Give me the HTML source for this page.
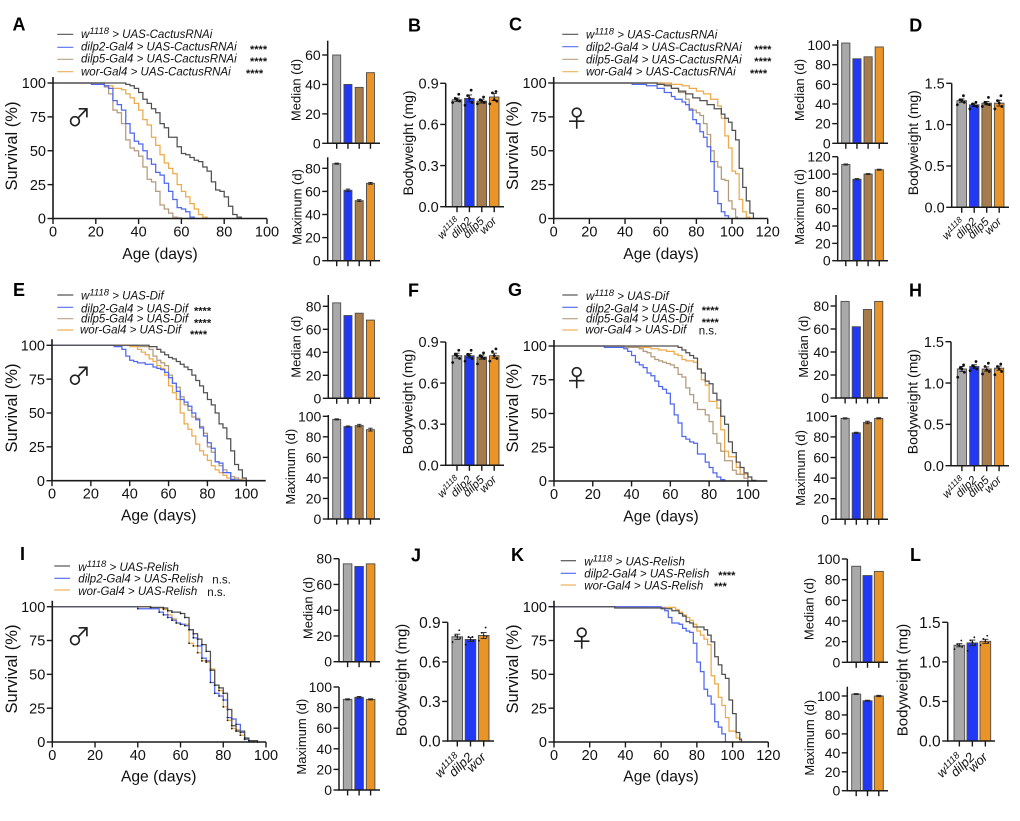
<!DOCTYPE html>
<html lang="en">
<head>
<meta charset="utf-8">
<title>Survival and bodyweight panels</title>
<style>
html,body{margin:0;padding:0;background:#fff;width:1020px;height:821px;overflow:hidden}
svg{display:block;filter:blur(.3px)}
text{font-family:"Liberation Sans",sans-serif;fill:#111}
.letter{font-size:18px;font-weight:bold;fill:#000}
.leg{font-size:11.5px;font-style:italic}
.sup{font-size:9.5px}
.star{font-size:11px;font-weight:bold}
.ns{font-size:11.5px}
.title{font-size:15.6px}
.stitle{font-size:16.5px}
.sub{font-size:13px}
.bw{font-size:14px}
.bwl{font-size:15px}
.sex{font-family:"Noto Sans CJK JP","DejaVu Sans",sans-serif;font-size:24px;text-anchor:middle;fill:#222}
.lw{stroke:#555;stroke-width:1.2}
.lb{stroke:#5a70f2;stroke-width:1.2}
.lt{stroke:#b9a287;stroke-width:1.2}
.lo{stroke:#f0b058;stroke-width:1.2}
</style>
</head>
<body>
<svg id="figure" xmlns="http://www.w3.org/2000/svg" width="1020" height="821" viewBox="0 0 1020 821">
<rect width="1020" height="821" fill="#fff"/>

<!-- Panel letters -->
<text class="letter" x="12.5" y="30.7">A</text>
<text class="letter" x="408" y="31.7">B</text>
<text class="letter" x="509" y="30.7">C</text>
<text class="letter" x="909.3" y="31.7">D</text>
<text class="letter" x="13" y="296">E</text>
<text class="letter" x="408" y="296.7">F</text>
<text class="letter" x="508" y="296">G</text>
<text class="letter" x="909" y="296.7">H</text>
<text class="letter" x="20" y="560">I</text>
<text class="letter" x="411" y="561.5">J</text>
<text class="letter" x="511" y="561">K</text>
<text class="letter" x="910" y="561">L</text>

<!-- Chart groups filled by script -->
<g id="a-surv"></g>
<g id="a-med"></g>
<g id="a-max"></g>
<g id="b-bw"></g>
<g id="c-surv"></g>
<g id="c-med"></g>
<g id="c-max"></g>
<g id="d-bw"></g>
<g id="e-surv"></g>
<g id="e-med"></g>
<g id="e-max"></g>
<g id="f-bw"></g>
<g id="g-surv"></g>
<g id="g-med"></g>
<g id="g-max"></g>
<g id="h-bw"></g>
<g id="i-surv"></g>
<g id="i-med"></g>
<g id="i-max"></g>
<g id="j-bw"></g>
<g id="k-surv"></g>
<g id="k-med"></g>
<g id="k-max"></g>
<g id="l-bw"></g>

<!-- Survival axis titles -->
<text class="title" x="160" y="259" text-anchor="middle">Age (days)</text>
<text class="stitle" transform="translate(17,146) rotate(-90)" text-anchor="middle">Survival (%)</text>
<text class="title" x="661" y="259" text-anchor="middle">Age (days)</text>
<text class="stitle" transform="translate(518,145.5) rotate(-90)" text-anchor="middle">Survival (%)</text>
<text class="title" x="158.7" y="520.7" text-anchor="middle">Age (days)</text>
<text class="stitle" transform="translate(17,408) rotate(-90)" text-anchor="middle">Survival (%)</text>
<text class="title" x="661" y="521.7" text-anchor="middle">Age (days)</text>
<text class="stitle" transform="translate(518,408) rotate(-90)" text-anchor="middle">Survival (%)</text>
<text class="title" x="158.7" y="781.7" text-anchor="middle">Age (days)</text>
<text class="stitle" transform="translate(17,669) rotate(-90)" text-anchor="middle">Survival (%)</text>
<text class="title" x="661" y="781.7" text-anchor="middle">Age (days)</text>
<text class="stitle" transform="translate(518,669) rotate(-90)" text-anchor="middle">Survival (%)</text>

<!-- Median / maximum / bodyweight axis titles -->
<text class="sub" transform="translate(300.7,90) rotate(-90)" text-anchor="middle">Median (d)</text>
<text class="sub" transform="translate(301.7,207) rotate(-90)" text-anchor="middle">Maximum (d)</text>
<text class="bw" transform="translate(413,143) rotate(-90)" text-anchor="middle">Bodyweight (mg)</text>
<text class="sub" transform="translate(804,90) rotate(-90)" text-anchor="middle">Median (d)</text>
<text class="sub" transform="translate(804,207) rotate(-90)" text-anchor="middle">Maximum (d)</text>
<text class="bw" transform="translate(918,142.7) rotate(-90)" text-anchor="middle">Bodyweight (mg)</text>
<text class="sub" transform="translate(300.7,346.7) rotate(-90)" text-anchor="middle">Median (d)</text>
<text class="sub" transform="translate(295,466.7) rotate(-90)" text-anchor="middle">Maximum (d)</text>
<text class="bw" transform="translate(412.7,401.7) rotate(-90)" text-anchor="middle">Bodyweight (mg)</text>
<text class="sub" transform="translate(808,346.7) rotate(-90)" text-anchor="middle">Median (d)</text>
<text class="sub" transform="translate(805,468) rotate(-90)" text-anchor="middle">Maximum (d)</text>
<text class="bw" transform="translate(917.7,401.7) rotate(-90)" text-anchor="middle">Bodyweight (mg)</text>
<text class="sub" transform="translate(312.7,608) rotate(-90)" text-anchor="middle">Median (d)</text>
<text class="sub" transform="translate(306,736.7) rotate(-90)" text-anchor="middle">Maximum (d)</text>
<text class="bwl" transform="translate(406.7,680) rotate(-90)" text-anchor="middle">Bodyweight (mg)</text>
<text class="sub" transform="translate(813.3,609) rotate(-90)" text-anchor="middle">Median (d)</text>
<text class="sub" transform="translate(814,737.7) rotate(-90)" text-anchor="middle">Maximum (d)</text>
<text class="bwl" transform="translate(907.3,680) rotate(-90)" text-anchor="middle">Bodyweight (mg)</text>

<!-- Sex symbols -->
<text class="sex" x="79" y="126">♂</text>
<text class="sex" x="576.7" y="127">♀</text>
<text class="sex" x="79" y="384.5">♂</text>
<text class="sex" x="576.7" y="386.5">♀</text>
<text class="sex" x="79" y="645">♂</text>
<text class="sex" x="581.7" y="647">♀</text>

<!-- Legend A -->
<g>
<g><line class="lw" x1="57.3" x2="73.3" y1="34.3" y2="34.3"/><text class="leg" x="81" y="37.8">w<tspan class="sup" dy="-4">1118</tspan><tspan dy="4"> &gt; UAS-CactusRNAi</tspan></text></g>
<g><line class="lb" x1="57.3" x2="73.3" y1="47.3" y2="47.3"/><text class="leg" x="81" y="50.7">dilp2-Gal4 &gt; UAS-CactusRNAi</text><text class="star" x="250" y="53">****</text></g>
<g><line class="lt" x1="57.3" x2="73.3" y1="59.3" y2="59.3"/><text class="leg" x="81" y="62.7">dilp5-Gal4 &gt; UAS-CactusRNAi</text><text class="star" x="250" y="65">****</text></g>
<g><line class="lo" x1="57.3" x2="73.3" y1="71.7" y2="71.7"/><text class="leg" x="81" y="75.7">wor-Gal4 &gt; UAS-CactusRNAi</text><text class="star" x="246" y="77">****</text></g>
</g>
<!-- Legend C -->
<g>
<g><line class="lw" x1="562.3" x2="578.3" y1="34.3" y2="34.3"/><text class="leg" x="586" y="38.3">w<tspan class="sup" dy="-4">1118</tspan><tspan dy="4"> &gt; UAS-CactusRNAi</tspan></text></g>
<g><line class="lb" x1="562.3" x2="578.3" y1="46.7" y2="46.7"/><text class="leg" x="586" y="51">dilp2-Gal4 &gt; UAS-CactusRNAi</text><text class="star" x="754.3" y="53">****</text></g>
<g><line class="lt" x1="562.3" x2="578.3" y1="59.3" y2="59.3"/><text class="leg" x="586" y="63.3">dilp5-Gal4 &gt; UAS-CactusRNAi</text><text class="star" x="754.3" y="65">****</text></g>
<g><line class="lo" x1="562.3" x2="578.3" y1="71.7" y2="71.7"/><text class="leg" x="586" y="75.7">wor-Gal4 &gt; UAS-CactusRNAi</text><text class="star" x="750" y="77">****</text></g>
</g>
<!-- Legend E -->
<g>
<g><line class="lw" x1="57.3" x2="73.3" y1="295" y2="295"/><text class="leg" x="81" y="299.3">w<tspan class="sup" dy="-4">1118</tspan><tspan dy="4"> &gt; UAS-Dif</tspan></text></g>
<g><line class="lb" x1="57.3" x2="73.3" y1="307.3" y2="307.3"/><text class="leg" x="81" y="312.7">dilp2-Gal4 &gt; UAS-Dif</text><text class="star" x="194" y="314.7">****</text></g>
<g><line class="lt" x1="57.3" x2="73.3" y1="318.7" y2="318.7"/><text class="leg" x="81" y="322.3">dilp5-Gal4 &gt; UAS-Dif</text><text class="star" x="194" y="326.3">****</text></g>
<g><line class="lo" x1="57.3" x2="73.3" y1="330" y2="330"/><text class="leg" x="80" y="333.3">wor-Gal4 &gt; UAS-Dif</text><text class="star" x="190" y="338">****</text></g>
</g>
<!-- Legend G -->
<g>
<g><line class="lw" x1="562.3" x2="577.7" y1="295" y2="295"/><text class="leg" x="586" y="300">w<tspan class="sup" dy="-4">1118</tspan><tspan dy="4"> &gt; UAS-Dif</tspan></text></g>
<g><line class="lb" x1="562.3" x2="577.7" y1="307.3" y2="307.3"/><text class="leg" x="586" y="312.7">dilp2-Gal4 &gt; UAS-Dif</text><text class="star" x="701.7" y="314">****</text></g>
<g><line class="lt" x1="562.3" x2="577.7" y1="318.7" y2="318.7"/><text class="leg" x="586" y="322.3">dilp5-Gal4 &gt; UAS-Dif</text><text class="star" x="701.7" y="326">****</text></g>
<g><line class="lo" x1="562.3" x2="577.7" y1="330" y2="330"/><text class="leg" x="585.3" y="333.3">wor-Gal4 &gt; UAS-Dif</text><text class="ns" x="698.7" y="334.3">n.s.</text></g>
</g>
<!-- Legend I -->
<g>
<g><line class="lw" x1="54.3" x2="70" y1="566" y2="566"/><text class="leg" x="78.3" y="571">w<tspan class="sup" dy="-4">1118</tspan><tspan dy="4"> &gt; UAS-Relish</tspan></text></g>
<g><line class="lb" x1="54.3" x2="70" y1="578.3" y2="578.3"/><text class="leg" x="78.3" y="582.7">dilp2-Gal4 &gt; UAS-Relish</text><text class="ns" x="212.3" y="583.3">n.s.</text></g>
<g><line class="lo" x1="54.3" x2="70" y1="590" y2="590"/><text class="leg" x="78.3" y="595">wor-Gal4 &gt; UAS-Relish</text><text class="ns" x="207.3" y="596">n.s.</text></g>
</g>
<!-- Legend K -->
<g>
<g><line class="lw" x1="560.7" x2="576" y1="560.7" y2="560.7"/><text class="leg" x="584.3" y="565.7">w<tspan class="sup" dy="-4">1118</tspan><tspan dy="4"> &gt; UAS-Relish</tspan></text></g>
<g><line class="lb" x1="560.7" x2="576" y1="573.3" y2="573.3"/><text class="leg" x="584.3" y="577.7">dilp2-Gal4 &gt; UAS-Relish</text><text class="star" x="718.3" y="579">****</text></g>
<g><line class="lo" x1="560.7" x2="576" y1="585" y2="585"/><text class="leg" x="584.3" y="589.3">wor-Gal4 &gt; UAS-Relish</text><text class="star" x="714" y="590">***</text></g>
</g>
</svg>

<script>
/* ---------- Tick labels ---------- */
const survivalYTicks = [0, 25, 50, 75, 100];
const ageTicks100 = [0, 20, 40, 60, 80, 100];
const ageTicks120 = [0, 20, 40, 60, 80, 100, 120];
const ticks0to60 = [0, 20, 40, 60];
const ticks0to80 = [0, 20, 40, 60, 80];
const ticks0to100 = [0, 20, 40, 60, 80, 100];
const ticks0to120 = [0, 20, 40, 60, 80, 100, 120];
const bwTicksLow = [0, 0.3, 0.6, 0.9];
const bwTicksHigh = [0, 0.5, 1.0, 1.5];

/* ---------- Categories ---------- */
const genotypes4 = ['w1118', 'dilp2', 'dilp5', 'wor'];
const genotypes3 = ['w1118', 'dilp2', 'wor'];

/* ---------- Survival curves: [age, survival %] ---------- */
const a_w1118 = [[34,99],[36,98],[38,96],[40,93],[42,88],[44,85],[46,81],[48,78],[50,70],[52,67],[54,60],[58,53],[60,48],[62,47],[64,45],[66,43],[68,42],[70,38],[72,35],[74,27],[76,21],[78,20],[80,16],[82,9],[84,3],[86,1],[88,0]];
const a_dilp2 = [[18,99],[24,98],[26,96],[28,87],[30,84],[32,80],[34,70],[36,63],[38,57],[40,55],[42,50],[44,44],[46,40],[48,34],[50,32],[52,26],[54,20],[56,14],[58,8],[60,7],[62,5],[64,1],[66,0]];
const a_dilp5 = [[24,97],[26,92],[28,80],[30,78],[32,70],[34,58],[36,52],[38,50],[40,46],[42,38],[44,29],[46,27],[48,20],[50,10],[52,7],[54,4],[56,1],[58,0.5],[60,0]];
const a_wor = [[24,98],[28,96],[32,95],[34,92],[36,89],[38,85],[40,80],[42,73],[44,69],[46,60],[48,54],[50,47],[52,41],[54,37],[56,33],[58,25],[60,20],[62,16],[64,11],[66,7],[68,3],[70,1],[72,0]];

const c_w1118 = [[58,99],[62,98],[66,96],[70,94],[74,92],[78,89],[82,87],[86,84],[90,81],[94,77],[96,74],[98,71],[100,65],[102,58],[104,37],[106,23],[108,13],[110,4],[112,0]];
const c_dilp2 = [[44,99],[52,98],[58,96],[62,93],[66,90],[68,88],[72,86],[74,84],[76,80],[78,73],[80,70],[82,64],[84,60],[86,53],[88,42],[90,20],[92,11],[94,5],[96,2],[98,0]];
const c_dilp5 = [[60,99],[66,96],[70,93],[74,88],[76,81],[78,80],[80,78],[82,76],[84,70],[86,62],[88,50],[90,42],[92,38],[94,29],[96,28],[98,13],[100,7],[102,1],[103,0]];
const c_wor = [[66,99],[72,98],[76,96],[80,94],[84,92],[88,88],[92,83],[94,74],[96,61],[98,52],[100,35],[102,33],[104,14],[106,5],[108,1],[110,0]];

const e_w1118 = [[50,99],[54,97],[56,95],[58,93],[60,91],[62,90],[64,88],[66,86],[68,84],[70,82],[72,78],[74,74],[76,70],[78,65],[80,60],[82,56],[84,50],[86,42],[88,39],[90,31],[92,22],[94,12],[96,8],[98,2],[100,0]];
const e_dilp2 = [[32,99],[36,97],[38,92],[40,89],[42,88],[44,87],[48,86],[52,84],[54,83],[56,82],[58,80],[60,76],[62,72],[64,66],[66,60],[68,58],[70,55],[72,50],[74,45],[76,39],[78,33],[80,28],[82,24],[84,14],[86,13],[88,6],[92,1],[94,0.5],[96,0]];
const e_dilp5 = [[44,99],[50,97],[52,92],[54,89],[56,87],[58,85],[60,78],[62,72],[64,69],[66,62],[68,56],[70,52],[72,47],[74,46],[76,40],[78,35],[80,25],[82,21],[84,14],[86,11],[88,8],[90,6],[92,3],[94,2],[96,1],[98,0.5],[100,0]];
const e_wor = [[40,99],[44,97],[46,95],[48,93],[50,90],[52,88],[54,85],[56,83],[58,78],[60,70],[62,65],[64,60],[66,50],[68,42],[70,38],[72,33],[74,27],[76,22],[78,19],[80,15],[82,11],[84,8],[86,6],[88,4],[90,2],[92,1],[94,0.5],[98,0]];

const g_w1118 = [[64,99],[66,97],[68,95],[70,93],[72,91],[74,83],[76,80],[78,74],[80,72],[82,65],[84,60],[86,48],[88,42],[90,29],[92,21],[94,14],[96,10],[98,6],[100,3],[102,0.5],[104,0]];
const g_dilp2 = [[26,99],[36,98],[38,96],[40,93],[42,88],[44,86],[46,84],[48,80],[50,78],[52,74],[54,70],[56,68],[58,65],[60,57],[62,49],[64,43],[66,33],[68,31],[70,29],[72,28],[74,20],[76,20],[78,14],[80,10],[82,6],[84,3],[86,1],[88,0]];
const g_dilp5 = [[36,99],[44,98],[46,96],[48,95],[50,92],[52,90],[54,89],[56,88],[58,87],[60,86],[62,84],[64,79],[66,77],[68,69],[70,64],[72,58],[74,53],[78,49],[80,44],[82,35],[84,28],[86,22],[88,15],[92,8],[94,5],[98,2],[100,0]];
const g_wor = [[36,99],[50,98],[54,97],[58,96],[62,94],[64,93],[66,90],[68,89],[72,88],[74,83],[76,75],[78,71],[80,59],[84,54],[86,38],[88,22],[90,18],[94,10],[96,5],[100,0]];

const i_w1118 = [[46,99.5],[52,99],[54,97],[56,96],[60,95],[62,92],[64,83],[66,80],[68,76],[70,72],[72,67],[74,53],[76,42],[78,40],[80,36],[82,24],[84,12],[86,8],[90,3],[92,1],[96,0]];
const i_dilp2 = [[40,98.5],[50,96],[52,94],[54,92],[56,90],[58,88],[60,87],[62,86],[64,83],[66,77],[68,71],[70,62],[72,60],[74,44],[76,36],[78,34],[80,31],[82,18],[84,17],[86,13],[88,7],[90,2],[92,1],[96,0]];
const i_wor = [[46,99],[52,98],[54,94],[56,91],[58,88],[60,87],[64,73],[66,71],[68,66],[70,60],[72,59],[74,54],[76,42],[78,38],[80,26],[82,16],[84,10],[86,9],[88,5],[90,2],[92,0.5],[94,0]];

const k_w1118 = [[34,99],[60,98.5],[66,97],[70,95],[72,93],[74,89],[76,88],[78,85],[84,83],[86,79],[88,74],[90,63],[92,57],[94,50],[96,47],[98,31],[100,21],[102,7],[104,2],[105,0]];
const k_dilp2 = [[60,99],[62,97],[64,92],[66,88],[70,87],[72,84],[74,82],[76,81],[78,73],[80,59],[82,52],[84,39],[86,34],[88,28],[90,15],[92,11],[94,6],[96,0]];
const k_wor = [[52,99.5],[68,98],[70,96],[72,94],[74,92],[76,90],[78,87],[80,82],[82,79],[84,76],[86,72],[88,49],[90,43],[92,33],[94,27],[96,18],[98,8],[102,3],[104,0]];

/* ---------- Median lifespan ---------- */
const medianA = [60, 40, 38, 48];
const medianC = [102, 86, 88, 98];
const medianE = [83, 72, 74, 68];
const medianG = [84, 62, 77, 84];
const medianI = [76, 74, 76];
const medianK = [93, 84, 88];

/* ---------- Maximum lifespan and its error ---------- */
const maximumA = [84, 61, 52, 67];
const maximumErrA = [0.5, 1, 0.8, 0.8];
const maximumC = [111, 94, 100, 105];
const maximumErrC = [0.6, 0.8, 0.6, 0.6];
const maximumE = [97, 90, 91, 87];
const maximumErrE = [0.5, 0.6, 1.2, 1.4];
const maximumG = [98, 84, 94, 98];
const maximumErrG = [0.5, 0.6, 1.2, 0.6];
const maximumI = [88, 90, 88];
const maximumErrI = [0.5, 0.8, 0.5];
const maximumK = [102, 95, 100];
const maximumErrK = [0.5, 0.6, 0.7];

/* ---------- Bodyweight means, errors, replicates ---------- */
const bodyMeanB = [0.78, 0.79, 0.77, 0.80];
const bodySemB = [0.012, 0.025, 0.014, 0.025];
const bodyPointsB = [[0.76,0.77,0.78,0.79,0.82],[0.74,0.76,0.79,0.81,0.85],[0.75,0.76,0.77,0.78,0.80],[0.75,0.77,0.78,0.83,0.84]];
const bodyMeanD = [1.29, 1.24, 1.26, 1.26];
const bodySemD = [0.02, 0.02, 0.02, 0.035];
const bodyPointsD = [[1.24,1.27,1.29,1.30,1.35],[1.19,1.22,1.23,1.25,1.27],[1.22,1.24,1.25,1.27,1.33],[1.19,1.22,1.26,1.29,1.35]];
const bodyMeanF = [0.80, 0.80, 0.79, 0.80];
const bodySemF = [0.018, 0.015, 0.015, 0.018];
const bodyPointsF = [[0.75,0.78,0.80,0.81,0.84],[0.76,0.78,0.80,0.81,0.84],[0.74,0.78,0.79,0.80,0.82],[0.76,0.78,0.80,0.83,0.85]];
const bodyMeanH = [1.17, 1.20, 1.17, 1.18];
const bodySemH = [0.03, 0.02, 0.025, 0.025];
const bodyPointsH = [[1.07,1.13,1.17,1.18,1.22],[1.15,1.17,1.19,1.21,1.26],[1.11,1.14,1.16,1.20,1.24],[1.10,1.14,1.17,1.20,1.23]];
const bodyMeanJ = [0.79, 0.77, 0.80];
const bodySemJ = [0.02, 0.015, 0.022];
const bodyPointsJ = [[0.75,0.78,0.79,0.80,0.84],[0.73,0.76,0.77,0.79,0.79],[0.76,0.79,0.80,0.82,0.86]];
const bodyMeanL = [1.21, 1.24, 1.26];
const bodySemL = [0.02, 0.035, 0.025];
const bodyPointsL = [[1.16,1.19,1.21,1.22,1.27],[1.14,1.22,1.25,1.27,1.31],[1.21,1.24,1.26,1.29,1.33]];

/* ---------- Drawing ---------- */
const NS = 'http://www.w3.org/2000/svg';
const AXIS = '#1a1a1a';
const COL = {w1118:'#505050', dilp2:'#4f68f0', dilp5:'#b39a7c', wor:'#eea94a'};
const FILL = {w1118:'#a9a9a9', dilp2:'#2138f5', dilp5:'#a67c4c', wor:'#ea9326'};
const JITTER = [-5, 3, 0, -2, 2];

function mk(parent, tag, attrs, txt) {
  const node = document.createElementNS(NS, tag);
  for (const k in attrs) node.setAttribute(k, attrs[k]);
  if (txt !== undefined) node.textContent = txt;
  parent.appendChild(node);
  return node;
}

function axisLine(g, x1, y1, x2, y2, w) {
  const el = mk(g, 'line', {x1: x1, y1: y1, x2: x2, y2: y2, stroke: AXIS, 'stroke-width': w});
  
  
}

function yAxisTicks(g, ax, scale, ticks, size, fmt) {
  ticks.forEach(function (t) {
    const y = scale(t);
    const el = mk(g, 'line', {x1: ax - 5.5, x2: ax, y1: y, y2: y, stroke: AXIS, 'stroke-width': 1.4});
    
    
    const lab = mk(g, 'text', {x: ax - 7, y: y + size * 0.36, 'text-anchor': 'end', 'font-size': size}, fmt ? fmt(t) : String(t));
    
    
  });
}

function drawSurvival(id, box, xMax, xTicks, series, censor) {
  const g = document.getElementById(id);
  const sx = function (a) { return box.x0 + (a / xMax) * (box.x1 - box.x0); };
  const sy = function (s) { return box.y0 + (s / 100) * (box.y100 - box.y0); };
  series.forEach(function (item) {
    const pts = item[1];
    let d = 'M' + sx(0) + ' ' + sy(100);
    pts.forEach(function (p) {
      d += 'H' + sx(p[0]).toFixed(2) + 'V' + sy(p[1]).toFixed(2);
    });
    const el = mk(g, 'path', {d: d, fill: 'none', stroke: COL[item[0]], 'stroke-width': 1.25});
    
    
    if (censor) {
      pts.forEach(function (p) {
        const dot = mk(g, 'circle', {cx: sx(p[0]), cy: sy(p[1]), r: 0.9, fill: '#222'});
        
        
      });
    }
  });
  axisLine(g, box.x0, box.y100 - 6, box.x0, box.y0 + 0.7, 1.6);
  axisLine(g, box.x0 - 0.8, box.y0, box.x1, box.y0, 1.6);
  yAxisTicks(g, box.x0, sy, survivalYTicks, 14.5);
  xTicks.forEach(function (t) {
    const x = sx(t);
    const el = mk(g, 'line', {x1: x, x2: x, y1: box.y0, y2: box.y0 + 5.5, stroke: AXIS, 'stroke-width': 1.4});
    
    
    const lab = mk(g, 'text', {x: x, y: box.y0 + 18, 'text-anchor': 'middle', 'font-size': 14.5}, String(t));
    
    
  });
}

function drawBars(id, box, names, values, errs, ticks, opt) {
  opt = opt || {};
  const g = document.getElementById(id);
  const sy = function (v) { return box.y0 + (v / box.ref) * (box.yRef - box.y0); };
  values.forEach(function (v, i) {
    const left = box.bar + i * box.pitch;
    const cx = left + box.w / 2;
    const el = mk(g, 'rect', {x: left, y: sy(v), width: box.w, height: box.y0 - sy(v), fill: FILL[names[i]], stroke: '#4d4d4d', 'stroke-width': 0.9});
    
    
    if (errs) {
      const top = sy(v + errs[i]);
      const low = sy(v - errs[i]);
      const cap = box.w * 0.28;
      const eb = mk(g, 'path', {d: 'M' + cx + ' ' + low + 'V' + top + 'M' + (cx - cap) + ' ' + top + 'H' + (cx + cap) + 'M' + (cx - cap) + ' ' + low + 'H' + (cx + cap), fill: 'none', stroke: '#222', 'stroke-width': 0.9});
      
      
    }
    if (opt.points) {
      opt.points[i].forEach(function (p, j) {
        const dot = mk(g, 'circle', {cx: cx + JITTER[j % 5] * (box.w / 11), cy: sy(p), r: opt.r || 1.4, fill: '#111'});
        
        
      });
    }
    const tk = mk(g, 'line', {x1: cx, x2: cx, y1: box.y0, y2: box.y0 + 5.5, stroke: AXIS, 'stroke-width': 1.4});
    
    
    if (opt.labels) {
      const lx = cx + 3;
      const ly = box.y0 + (opt.labelDrop || 15);
      const lab = mk(g, 'text', {'text-anchor': 'end', 'font-size': opt.labelSize, 'font-style': 'italic', transform: 'translate(' + lx + ',' + ly + ') rotate(-45)'});
      
      
      if (names[i] === 'w1118') {
        mk(lab, 'tspan', {}, 'w');
        mk(lab, 'tspan', {dy: -3, 'font-size': opt.labelSize * 0.72}, '1118');
      } else {
        lab.textContent = names[i];
      }
    }
  });
  axisLine(g, box.ax, box.top, box.ax, box.y0 + 0.7, 1.5);
  axisLine(g, box.ax - 0.7, box.y0, box.end, box.y0, 1.5);
  yAxisTicks(g, box.ax, sy, ticks, opt.tickSize || 14, opt.fmt);
}

const oneDecimal = function (t) { return t.toFixed(1); };

/* Survival panels */
drawSurvival('a-surv', {x0: 53, x1: 267, y0: 218.5, y100: 83}, 100, ageTicks100, [['wor', a_wor], ['dilp5', a_dilp5], ['dilp2', a_dilp2], ['w1118', a_w1118]]);
drawSurvival('c-surv', {x0: 553.7, x1: 767.7, y0: 218.5, y100: 83}, 120, ageTicks120, [['wor', c_wor], ['dilp5', c_dilp5], ['dilp2', c_dilp2], ['w1118', c_w1118]]);
drawSurvival('e-surv', {x0: 52, x1: 265.7, y0: 480.7, y100: 345.3}, 110, ageTicks100, [['dilp5', e_dilp5], ['wor', e_wor], ['dilp2', e_dilp2], ['w1118', e_w1118]]);
drawSurvival('g-surv', {x0: 554, x1: 767.3, y0: 481, y100: 346}, 110, ageTicks100, [['wor', g_wor], ['dilp5', g_dilp5], ['dilp2', g_dilp2], ['w1118', g_w1118]]);
drawSurvival('i-surv', {x0: 52.3, x1: 266, y0: 742, y100: 606.7}, 100, ageTicks100, [['wor', i_wor], ['dilp2', i_dilp2], ['w1118', i_w1118]], true);
drawSurvival('k-surv', {x0: 554, x1: 768.3, y0: 742, y100: 606.7}, 120, ageTicks120, [['wor', k_wor], ['dilp2', k_dilp2], ['w1118', k_w1118]]);

/* Panel A / B */
drawBars('a-med', {ax: 327.7, end: 380, bar: 332.7, pitch: 11.25, w: 8, y0: 143.3, yRef: 55, ref: 60, top: 40.7}, genotypes4, medianA, null, ticks0to60);
drawBars('a-max', {ax: 327.7, end: 380, bar: 332.7, pitch: 11.25, w: 8, y0: 260.7, yRef: 168.3, ref: 80, top: 157.3}, genotypes4, maximumA, maximumErrA, ticks0to80);
drawBars('b-bw', {ax: 445.7, end: 504, bar: 452.2, pitch: 12.4, w: 9.6, y0: 206.7, yRef: 83.3, ref: 0.9, top: 83.3}, genotypes4, bodyMeanB, bodySemB, bwTicksLow, {points: bodyPointsB, labels: true, labelSize: 11.5, fmt: oneDecimal, tickSize: 14.5});

/* Panel C / D */
drawBars('c-med', {ax: 837.7, end: 888, bar: 841.7, pitch: 11.15, w: 8.2, y0: 143.3, yRef: 45, ref: 100, top: 40}, genotypes4, medianC, null, ticks0to100);
drawBars('c-max', {ax: 837.7, end: 888, bar: 841.7, pitch: 11.15, w: 8.2, y0: 260.7, yRef: 156.7, ref: 120, top: 156.7}, genotypes4, maximumC, maximumErrC, ticks0to120);
drawBars('d-bw', {ax: 951.7, end: 1009, bar: 956.9, pitch: 12.5, w: 9.6, y0: 207.3, yRef: 83.3, ref: 1.5, top: 83.3}, genotypes4, bodyMeanD, bodySemD, bwTicksHigh, {points: bodyPointsD, labels: true, labelSize: 11.5, fmt: oneDecimal, tickSize: 14.5});

/* Panel E / F */
drawBars('e-med', {ax: 328.3, end: 380, bar: 332.7, pitch: 11.25, w: 8, y0: 398.3, yRef: 306.3, ref: 80, top: 295}, genotypes4, medianE, null, ticks0to80);
drawBars('e-max', {ax: 328.3, end: 380, bar: 332.7, pitch: 11.25, w: 8, y0: 519, yRef: 416.3, ref: 100, top: 415}, genotypes4, maximumE, maximumErrE, ticks0to100);
drawBars('f-bw', {ax: 445.7, end: 504, bar: 452.2, pitch: 12.4, w: 9.6, y0: 465.3, yRef: 342, ref: 0.9, top: 342}, genotypes4, bodyMeanF, bodySemF, bwTicksLow, {points: bodyPointsF, labels: true, labelSize: 11.5, fmt: oneDecimal, tickSize: 14.5});

/* Panel G / H */
drawBars('g-med', {ax: 836, end: 888, bar: 841, pitch: 11.2, w: 8.2, y0: 398, yRef: 306, ref: 80, top: 295}, genotypes4, medianG, null, ticks0to80);
drawBars('g-max', {ax: 836, end: 888, bar: 841, pitch: 11.2, w: 8.2, y0: 519.3, yRef: 416.3, ref: 100, top: 415}, genotypes4, maximumG, maximumErrG, ticks0to100);
drawBars('h-bw', {ax: 951, end: 1009, bar: 957.3, pitch: 12.4, w: 9.2, y0: 465.7, yRef: 341.7, ref: 1.5, top: 341.7}, genotypes4, bodyMeanH, bodySemH, bwTicksHigh, {points: bodyPointsH, labels: true, labelSize: 11.5, fmt: oneDecimal, tickSize: 14.5});

/* Panel I / J */
drawBars('i-med', {ax: 339, end: 380, bar: 343.3, pitch: 11.5, w: 8.6, y0: 661.7, yRef: 558.7, ref: 80, top: 558.7}, genotypes3, medianI, null, ticks0to80);
drawBars('i-max', {ax: 339, end: 380, bar: 343.3, pitch: 11.5, w: 8.6, y0: 790, yRef: 687, ref: 100, top: 687}, genotypes3, maximumI, maximumErrI, ticks0to100);
drawBars('j-bw', {ax: 447.7, end: 494, bar: 452, pitch: 13.2, w: 10.6, y0: 741, yRef: 622.3, ref: 0.9, top: 622.3}, genotypes3, bodyMeanJ, bodySemJ, bwTicksLow, {points: bodyPointsJ, labels: true, labelSize: 13, labelDrop: 17, fmt: oneDecimal, tickSize: 15.5, r: 0.9});

/* Panel K / L */
drawBars('k-med', {ax: 847.3, end: 888, bar: 851.7, pitch: 11.3, w: 9, y0: 662.3, yRef: 559, ref: 100, top: 559}, genotypes3, medianK, null, ticks0to100);
drawBars('k-max', {ax: 847.3, end: 888, bar: 851.7, pitch: 11.3, w: 9, y0: 790.7, yRef: 696, ref: 100, top: 686.7}, genotypes3, maximumK, maximumErrK, ticks0to100);
drawBars('l-bw', {ax: 947.7, end: 995, bar: 954, pitch: 13, w: 10.7, y0: 741, yRef: 622.3, ref: 1.5, top: 622.3}, genotypes3, bodyMeanL, bodySemL, bwTicksHigh, {points: bodyPointsL, labels: true, labelSize: 13, labelDrop: 17, fmt: oneDecimal, tickSize: 15.5, r: 0.9});
</script>
</body>
</html>
